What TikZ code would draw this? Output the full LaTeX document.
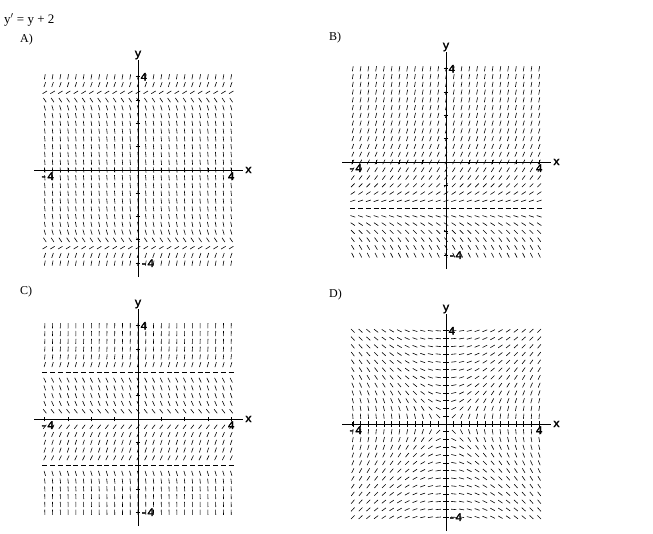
\documentclass[tikz,border=0pt]{standalone}
\usepackage{fontspec}
\setmainfont{Liberation Serif}
\newfontfamily\axisfont[FakeBold=2.5]{Liberation Mono}
\usetikzlibrary{positioning}
\tikzset{seg/.style={line width=0.6pt}, % Slope marks
axis/.style={line width=0.8pt},
ticklabel/.style={font=\axisfont\fontsize{11.5}{11.5}\selectfont, inner sep=1pt},
panellabel/.style={font=\fontsize{12}{12}\selectfont, anchor=west, inner sep=0pt}}
% #1 origin, #2 name, #3 angle of the slope mark
\newcommand{\slopepanel}[3]{%
\begin{scope}[shift={#1}, x=23.3pt, y=23.3pt]
    \foreach \i in {-12,...,12} \foreach \j in {-12,...,12} {
        \pgfmathsetmacro\xx{\i/3}
        \pgfmathsetmacro\yy{\j/3}
        \pgfmathsetmacro\ang{#3}
        \draw[seg] (\xx,\yy) ++(\ang+180:0.11) -- ++(\ang:0.22);
    }
    \coordinate (#2-l) at (-4.45,0);
    \coordinate (#2-r) at (4.5,0);
    \coordinate (#2-b) at (0,-4.6);
    \coordinate (#2-t) at (0,4.7);
    \draw[axis] (#2-l) -- (#2-r);
    \draw[axis] (#2-b) -- (#2-t);
    \foreach \k in {-4,...,4} {
        \draw[axis] (\k,-0.1) -- (\k,0.1);
        \draw[axis] (-0.1,\k) -- (0.1,\k);
    }
    \node[ticklabel, above=0pt of #2-t] (#2-y) {y};
    \node[ticklabel, right=1pt of #2-r] (#2-x) {x};
    \node[ticklabel, anchor=west] (#2-yt) at (0.05,4) {4};
    \node[ticklabel, anchor=west] (#2-yb) at (0.05,-4) {-4};
    \node[ticklabel, anchor=north] (#2-xl) at (-3.9,-0.05) {-4};
    \node[ticklabel, anchor=north] (#2-xr) at (4,-0.05) {4};
\end{scope}}

\begin{document}
\begin{tikzpicture}[x=1pt, y=1pt]
    \useasboundingbox (0,0) rectangle (653,-534);

    \node[panellabel, font=\fontsize{13}{13}\selectfont] (eq) at (4,-20) {y$'$ = y + 2};
    \node[panellabel] (la) at (20,-40) {A)};
    \node[panellabel] (lb) at (329,-38) {B)};
    \node[panellabel] (lc) at (20,-292) {C)};
    \node[panellabel] (ld) at (329,-295) {D)};

    \slopepanel{(138,-170)}{A}{atan(\yy*\yy-10.5)}
    \slopepanel{(446,-162)}{B}{atan(\yy+2)}
    \slopepanel{(138,-419)}{C}{atan(\yy*(\yy*\yy-4))}
    \slopepanel{(446,-424)}{D}{atan2(\xx,\yy)}

\end{tikzpicture}
\end{document}
